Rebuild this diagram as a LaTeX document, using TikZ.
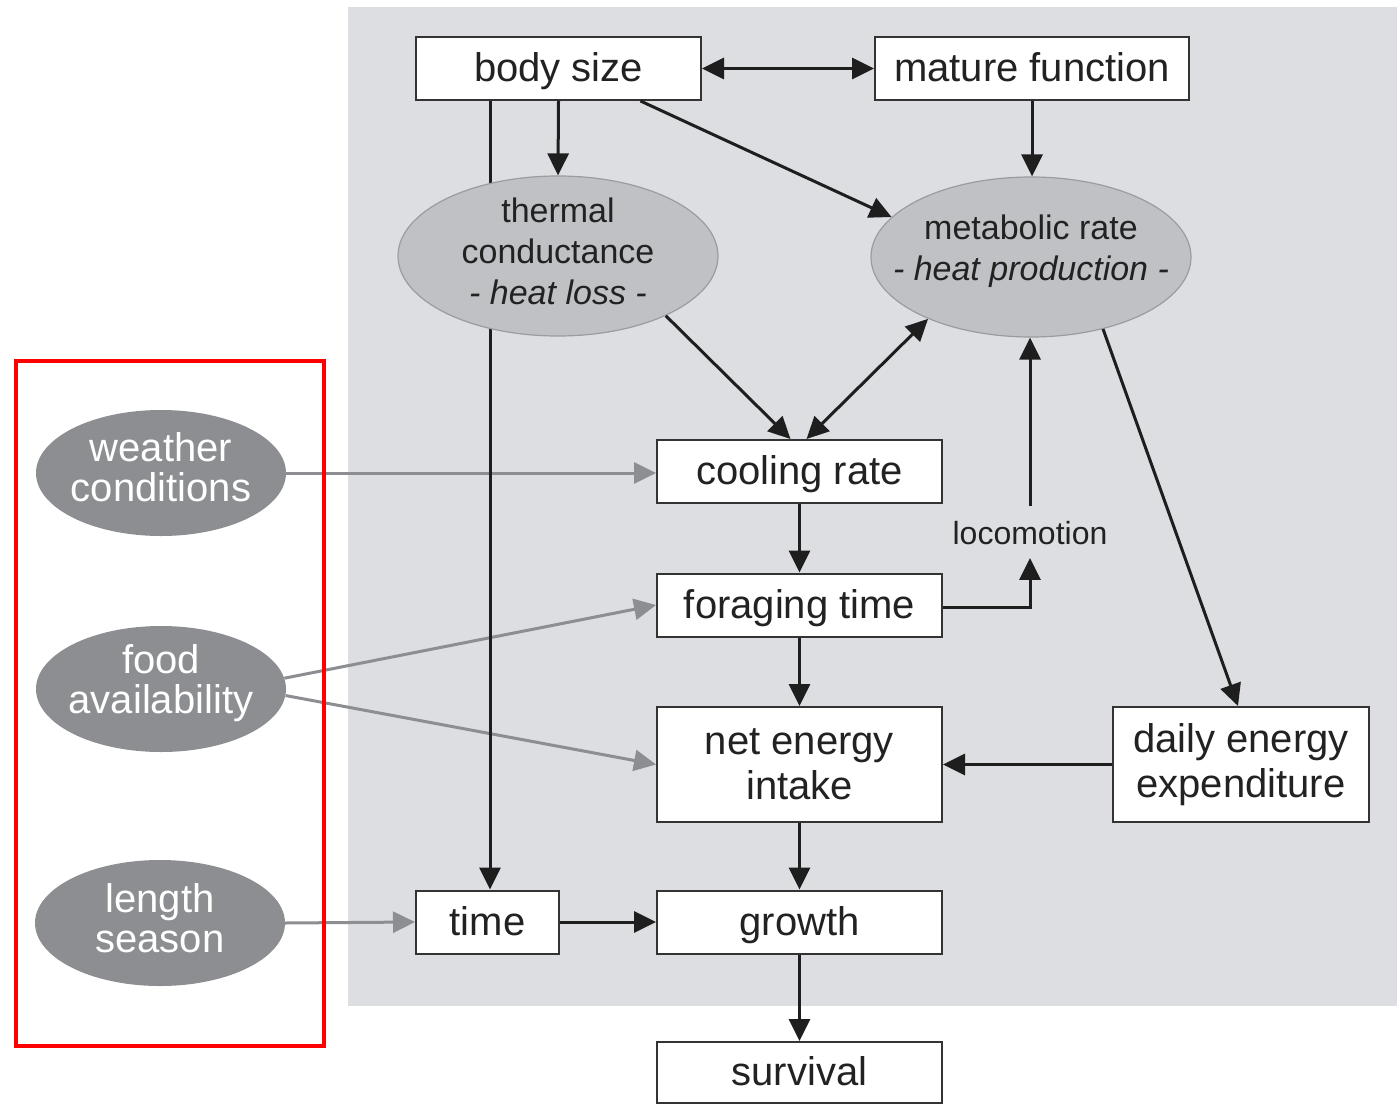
\documentclass[tikz,border=0pt]{standalone}
\usepackage{fontspec}
\setmainfont{Liberation Sans}
\usetikzlibrary{shapes.geometric,arrows.meta,calc}
\pgfdeclarelayer{bg}
\pgfdeclarelayer{back}
\pgfsetlayers{bg,back,main}
\definecolor{bgc}{HTML}{DCDEE1}
\definecolor{ellf}{HTML}{BFC1C4}
\definecolor{ellc}{HTML}{9A9C9F}
\definecolor{outf}{HTML}{8C8E91}
\definecolor{linec}{HTML}{1E1E1E}
\definecolor{boxc}{HTML}{333333}
\definecolor{txt}{HTML}{222222}
\begin{document}
\begin{tikzpicture}[x=1pt,y=-1pt,
  >={Triangle[length=22pt,width=21pt]},
  box/.style={draw=boxc, line width=2pt, fill=white, minimum width=285pt, minimum height=63pt, inner sep=0pt, align=center, font=\fontsize{40}{45}\selectfont, text=txt},
  oneline/.style={text height=30pt, text depth=4pt},
  innerell/.style={ellipse, draw=ellc, line width=1.2pt, fill=ellf, minimum width=320pt, minimum height=160pt, inner sep=0pt},
  elltext/.style={align=center, inner sep=0pt, font=\fontsize{34}{41}\selectfont, text=txt},
  outerell/.style={ellipse, fill=outf, minimum width=250pt, minimum height=126pt, inner sep=0pt},
  outtext/.style={align=center, inner sep=0pt, font=\fontsize{40}{40}\selectfont, text=white},
  arr/.style={line width=3pt, draw=linec, ->},
  garr/.style={line width=3pt, draw=outf, -{Triangle[length=22pt,width=21pt]}},
]
\useasboundingbox (0,0) rectangle (1397,1105);
\begin{pgfonlayer}{bg}
  \fill[bgc] (348,7) rectangle (1397,1006);
\end{pgfonlayer}

% nodes
\node[box, oneline] (bs) at (558.5,68.5) {body size};
\node[box, oneline, minimum width=314pt] (mf) at (1032,68.5) {mature function};
\node[innerell] (tc) at (558,256) {};
\node[elltext] (tct) at (558,251) {thermal\\conductance\\\textit{- heat loss -}};
\node[innerell] (mr) at (1031,257) {};
\node[elltext] (mrt) at (1031,251) {metabolic rate\\\textit{- heat production -}};
\node[box, oneline] (cr) at (799.5,471.5) {cooling rate};
\node[box, oneline] (fr) at (799.5,605) {foraging time};
\node[box, minimum height=115pt] (ne) at (799.5,764.5) {net energy\\intake};
\node[box, minimum width=256pt, minimum height=115pt] (de) at (1241,764.5) {daily energy\\expenditure};
\node[box, oneline, minimum width=143pt] (tm) at (487.5,922) {time};
\node[box, oneline] (gr) at (799.5,922) {growth};
\node[box, oneline, minimum height=61pt] (sv) at (799.5,1072.5) {survival};
\node[outerell] (wc) at (161,473) {};
\node[outtext] (wct) at (161,467) {weather\\conditions};
\node[outerell] (fa) at (161,689) {};
\node[outtext] (fat) at (161,683) {food\\availability};
\node[outerell] (ls) at (160,923) {};
\node[outtext] (lst) at (160,918) {length\\season};
\node[font=\fontsize{32}{36}\selectfont, text=txt, inner xsep=2pt, inner ysep=13pt] (lo) at (1030,533) {locomotion};

% connectors under the boxes
\begin{pgfonlayer}{back}
  \draw[garr] (wc.east) -- (wc.east -| cr.west);
  \draw[garr] (fa.5) -- (fr.west);
  \draw[garr] (fa.-3) -- (ne.west);
  \draw[garr] (ls.east) -- (tm.west);
  \draw[arr] ([xshift=2.5pt]tm.north |- bs.south) -- ([xshift=2.5pt]tm.north);
\end{pgfonlayer}

\draw[arr, <->] (bs.east) -- (mf.west);
\draw[arr] (bs.south) -- (tc.north);
\draw[arr] ([xshift=82pt]bs.south) -- (mr.164);
\draw[arr] (mf.south) -- (mf.south |- mr.north);
\draw[arr] (tc.-29) -- ([xshift=-9pt]cr.north);
\draw[arr, <->] ([xshift=7pt]cr.north) -- (mr.211);
\draw[arr] ([yshift=2pt]lo.north) -- (lo.north |- mr.south);
\draw[arr] ([yshift=-2pt]fr.east) -| (lo.south);
\draw[arr] (mr.-45) -- ([xshift=-3pt]de.north);
\draw[arr] (cr.south) -- (fr.north);
\draw[arr] (fr.south) -- (ne.north);
\draw[arr] (de.west) -- (ne.east);
\draw[arr] (ne.south) -- (gr.north);
\draw[arr] (tm.east) -- (gr.west);
\draw[arr] (gr.south) -- (sv.north);

% red frame
\draw[red, line width=4pt] (16,361) rectangle (324,1046);
\end{tikzpicture}
\end{document}
